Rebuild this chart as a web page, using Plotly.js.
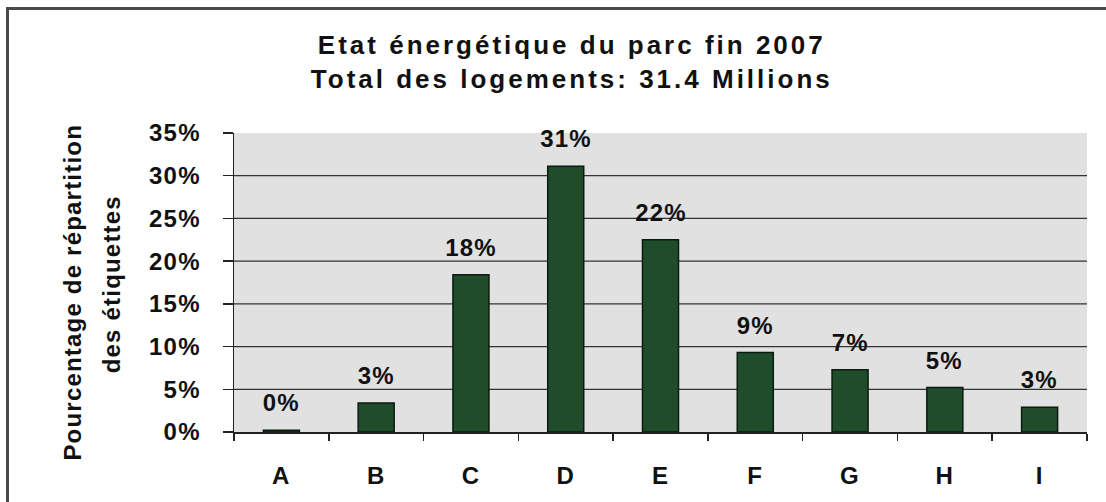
<!DOCTYPE html>
<html>
<head>
<meta charset="utf-8">
<script src="https://cdn.plot.ly/plotly-3.0.1.min.js"></script>
<style>
  html, body { margin: 0; padding: 0; background: #ffffff; }
  #frame { position: absolute; left: 6px; top: 7px; width: 1200px; height: 600px;
           border-left: 3px solid #4a4a4a; border-top: 3px solid #4a4a4a; }
  #chart { position: absolute; left: 0; top: 0; width: 1106px; height: 502px; }
  #chart text { letter-spacing: 1.2px; }
  #chart .gtitle { letter-spacing: 3px; }
</style>
</head>
<body>
<div id="frame"></div>
<div id="chart"></div>
<script>
const categories = ["A", "B", "C", "D", "E", "F", "G", "H", "I"];
const values = [0.2, 3.4, 18.4, 31.1, 22.5, 9.3, 7.3, 5.2, 2.9];
const labels = ["0%", "3%", "18%", "31%", "22%", "9%", "7%", "5%", "3%"];
const yTicks = [0, 5, 10, 15, 20, 25, 30, 35];
const yTickText = ["0%", "5%", "10%", "15%", "20%", "25%", "30%", "35%"];
const gridValues = [5, 10, 15, 20, 25, 30];
const yTitleLines = ["Pourcentage de répartition", "des étiquettes"];

const FONT = "Liberation Sans, Arial, sans-serif";
const INK = "#111111";

const trace = {
  type: "bar",
  x: categories,
  y: values,
  marker: { color: "#1f4d2c", line: { color: "#0a1a0e", width: 1.5 } },
  width: 0.38,
  hoverinfo: "skip"
};

const annotations = categories.map((c, i) => ({
  x: c, y: values[i], xref: "x", yref: "y",
  text: labels[i], showarrow: false,
  yanchor: "bottom", yshift: 12,
  font: { family: FONT, size: 24, color: INK, weight: "bold" }
}));

// y-axis title, two lines
[[-0.19, 0.468], [-0.143, 0.492]].forEach((p, i) => {
  annotations.push({
    xref: "paper", yref: "paper", x: p[0], y: p[1],
    xanchor: "center", yanchor: "middle",
    text: yTitleLines[i], textangle: -90, showarrow: false,
    font: { family: FONT, size: 24, color: INK, weight: "bold" }
  });
});

const shapes = gridValues.map(v => ({
  type: "line", xref: "paper", yref: "y", x0: 0, x1: 1, y0: v, y1: v,
  line: { color: "#333333", width: 1.2 }, layer: "below"
}));

const layout = {
  width: 1106, height: 502,
  margin: { l: 234, r: 19, t: 133, b: 70, pad: 0 },
  paper_bgcolor: "rgba(0,0,0,0)",
  plot_bgcolor: "#e1e1e1",
  showlegend: false,
  title: {
    text: "<b>Etat énergétique du parc fin 2007<br>Total des logements: 31.4 Millions</b>",
    x: 0.517, xanchor: "center", y: 0.892, yanchor: "middle",
    font: { family: FONT, size: 26, color: INK }
  },
  xaxis: {
    type: "category",
    showline: true, linecolor: "#222", linewidth: 1.5,
    ticks: "outside", tickson: "boundaries", ticklen: 7, tickcolor: "#222", tickwidth: 1.5,
    ticklabelstandoff: 22,
    tickfont: { family: FONT, size: 24, color: INK, weight: "bold" },
    showgrid: false, zeroline: false, fixedrange: true
  },
  yaxis: {
    range: [0, 35],
    tickvals: yTicks, ticktext: yTickText,
    showline: true, linecolor: "#222", linewidth: 1.5,
    ticks: "outside", ticklen: 10, tickcolor: "#222", tickwidth: 1.5,
    ticklabelstandoff: 17,
    tickfont: { family: FONT, size: 24, color: INK, weight: "bold" },
    showgrid: false, zeroline: false, fixedrange: true
  },
  annotations: annotations,
  shapes: shapes,
  bargap: 0.62
};

Plotly.newPlot("chart", [trace], layout, { staticPlot: true, displayModeBar: false });
</script>
</body>
</html>
